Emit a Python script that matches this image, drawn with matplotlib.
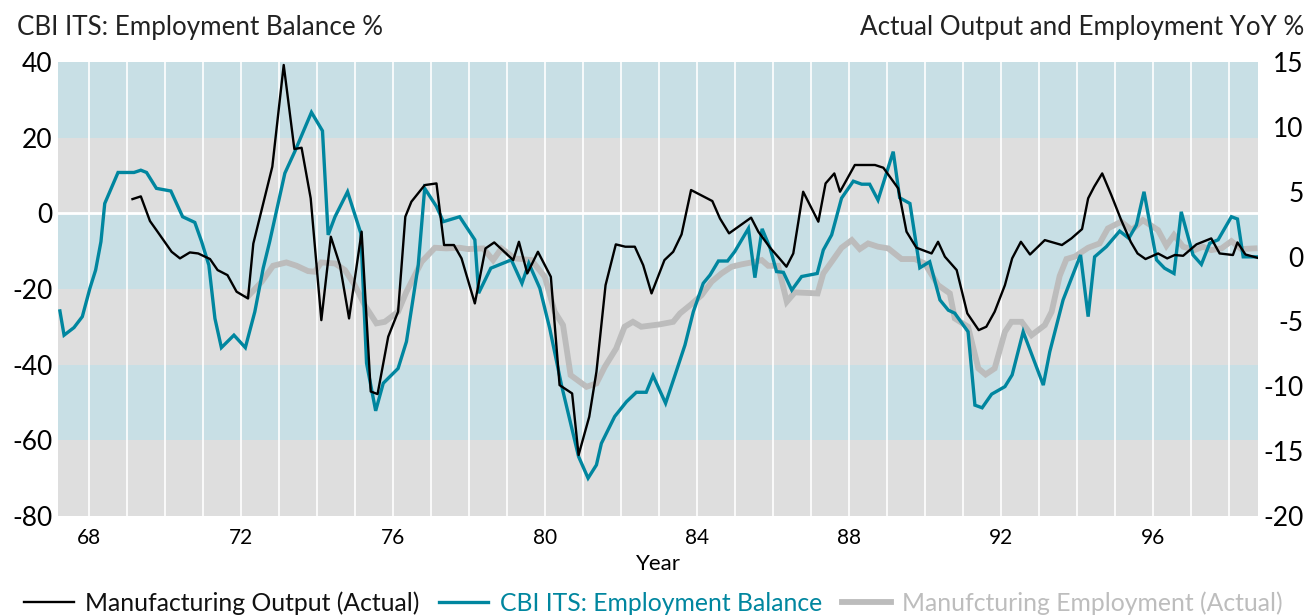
# CBI ITS employment balance vs actual output and employment
import matplotlib
matplotlib.use("Agg")
import matplotlib.pyplot as plt

plt.rcParams['font.family'] = ['Lato', 'DejaVu Sans']
plt.rcParams['axes.unicode_minus'] = False

# CBI ITS: Employment Balance % (left axis)
cbi_year = [67.23, 67.34, 67.60, 67.82, 68.02, 68.17, 68.31, 68.41, 68.76, 69.18,
            69.36, 69.51, 69.77, 70.15, 70.46, 70.78, 70.96, 71.15, 71.31, 71.48,
            71.81, 72.11, 72.36, 72.58, 72.75, 73.15, 73.41, 73.85, 74.14, 74.29,
            74.47, 74.80, 75.15, 75.30, 75.54, 75.74, 76.13, 76.35, 76.66, 76.83,
            77.14, 77.32, 77.75, 78.15, 78.25, 78.57, 79.11, 79.39, 79.57, 79.86,
            80.12, 80.43, 80.88, 81.13, 81.35, 81.48, 81.83, 82.14, 82.40, 82.66,
            82.84, 83.17, 83.42, 83.68, 83.90, 84.16, 84.34, 84.56, 84.80, 84.99,
            85.35, 85.52, 85.71, 85.92, 86.09, 86.27, 86.49, 86.75, 87.16, 87.32,
            87.54, 87.80, 88.11, 88.33, 88.54, 88.76, 89.16, 89.33, 89.60, 89.86,
            90.12, 90.39, 90.61, 90.78, 91.13, 91.31, 91.50, 91.75, 92.10, 92.29,
            92.58, 93.11, 93.28, 93.63, 94.09, 94.29, 94.46, 94.77, 95.12, 95.36,
            95.56, 95.76, 96.09, 96.30, 96.55, 96.74, 97.05, 97.27, 97.49, 97.71,
            98.06, 98.22, 98.37, 98.74]
cbi_bal = [-25.8, -32.2, -30.2, -27.3, -19.8, -15.0, -7.5, 2.6, 10.8, 10.8,
           11.4, 10.8, 6.6, 5.9, -0.9, -2.4, -7.5, -13.7, -27.8, -35.5,
           -32.2, -35.5, -26.0, -14.5, -7.5, 10.6, 16.3, 26.7, 21.8, -5.7,
           -0.9, 5.7, -5.3, -39.6, -52.2, -44.9, -41.0, -33.9, -13.7, 6.6,
           1.8, -2.2, -0.9, -7.0, -21.1, -14.5, -12.3, -18.5, -13.2, -19.8,
           -30.4, -45.4, -64.3, -70.0, -66.5, -60.8, -53.7, -49.8, -47.3, -47.3,
           -42.9, -50.2, -42.7, -34.8, -26.0, -18.5, -16.3, -12.6, -12.6, -10.1,
           -4.0, -17.0, -4.1, -9.2, -15.4, -15.6, -20.3, -16.7, -15.9, -9.7,
           -5.7, 4.0, 8.5, 7.7, 7.7, 3.5, 16.3, 4.1, 2.6, -14.4,
           -12.8, -22.9, -25.6, -26.4, -31.3, -50.7, -51.4, -47.8, -45.8, -42.7,
           -31.3, -45.4, -36.6, -22.9, -11.0, -27.3, -11.5, -8.8, -4.7, -6.6,
           -3.1, 5.7, -12.3, -14.5, -15.9, 0.4, -11.0, -13.5, -7.9, -7.0,
           -0.9, -1.5, -11.5, -11.5]

# Manufacturing output YoY % (right axis)
out_year = [69.14, 69.36, 69.60, 69.77, 70.17, 70.39, 70.65, 70.87, 71.18, 71.38,
            71.64, 71.88, 72.18, 72.32, 72.82, 73.12, 73.40, 73.59, 73.83, 74.11,
            74.36, 74.60, 74.84, 75.17, 75.41, 75.59, 75.87, 76.13, 76.32, 76.48,
            76.83, 77.14, 77.34, 77.60, 77.80, 78.15, 78.43, 78.66, 79.16, 79.31,
            79.53, 79.81, 80.15, 80.38, 80.71, 80.88, 81.16, 81.35, 81.59, 81.86,
            82.11, 82.36, 82.58, 82.80, 83.14, 83.37, 83.59, 83.84, 84.40, 84.60,
            84.84, 85.42, 85.61, 85.92, 86.15, 86.35, 86.53, 86.79, 87.19, 87.38,
            87.61, 87.76, 88.15, 88.68, 88.90, 89.29, 89.51, 89.77, 90.17, 90.34,
            90.52, 90.83, 91.11, 91.41, 91.61, 91.83, 92.10, 92.29, 92.52, 92.76,
            93.15, 93.60, 93.85, 94.13, 94.29, 94.45, 94.66, 94.90, 95.16, 95.41,
            95.59, 95.80, 96.13, 96.37, 96.57, 96.79, 97.14, 97.53, 97.75, 98.10,
            98.22, 98.43, 98.74]
out_yoy = [4.43, 4.64, 2.74, 2.04, 0.37, -0.14, 0.32, 0.24, -0.19, -1.04,
           -1.43, -2.71, -3.23, 1.0, 6.93, 14.77, 8.29, 8.39, 4.49, -4.9,
           1.53, -0.66, -4.77, 1.92, -10.4, -10.6, -6.18, -4.25, 3.07, 4.23,
           5.51, 5.64, 0.89, 0.89, -0.14, -3.61, 0.63, 1.09, -0.27, 1.14,
           -1.3, 0.37, -1.56, -9.91, -10.55, -15.3, -12.35, -8.88, -2.2, 0.94,
           0.76, 0.76, -0.66, -2.84, -0.27, 0.37, 1.71, 5.13, 4.28, 2.94,
           1.79, 3.0, 1.92, 0.68, -0.09, -0.78, 0.24, 5.0, 2.69, 5.64,
           6.41, 5.0, 7.06, 7.06, 6.85, 5.26, 1.92, 0.68, 0.24, 1.14,
           -0.01, -1.04, -4.38, -5.67, -5.41, -4.25, -2.2, -0.14, 1.14, 0.16,
           1.27, 0.89, 1.4, 2.12, 4.49, 5.39, 6.41, 4.74, 2.81, 1.14,
           0.24, -0.19, 0.24, -0.14, 0.12, 0.06, 0.94, 1.4, 0.24, 0.12,
           1.09, 0.16, -0.09]

# Manufacturing employment YoY % (right axis)
emp_year = [72.20, 72.54, 72.84, 73.19, 73.46, 73.76, 73.94, 74.11, 74.47, 74.73,
            74.99, 75.25, 75.56, 75.78, 76.13, 76.35, 76.75, 77.10, 77.40, 77.75,
            77.97, 78.37, 78.63, 78.85, 79.20, 79.64, 79.99, 80.25, 80.47, 80.67,
            81.09, 81.35, 81.57, 81.87, 82.09, 82.31, 82.53, 83.01, 83.37, 83.55,
            83.84, 84.12, 84.38, 84.64, 84.91, 85.17, 85.52, 85.70, 85.87, 86.13,
            86.36, 86.57, 87.17, 87.32, 87.54, 87.80, 88.07, 88.28, 88.50, 88.76,
            89.03, 89.38, 89.73, 89.99, 90.34, 90.65, 90.78, 91.13, 91.40, 91.59,
            91.83, 92.10, 92.27, 92.54, 92.80, 93.15, 93.33, 93.54, 93.72, 93.94,
            94.29, 94.59, 94.81, 95.16, 95.44, 95.73, 96.13, 96.35, 96.55, 96.79,
            97.09, 97.31, 97.53, 97.80, 98.06, 98.32, 98.67]
emp_yoy = [-3.0, -1.94, -0.71, -0.45, -0.71, -1.12, -1.17, -0.45, -0.53, -1.04,
           -2.20, -3.74, -5.15, -5.03, -4.25, -2.71, -0.40, 0.68, 0.63, 0.68,
           0.58, 0.63, -0.27, 0.63, -0.14, -0.27, -1.56, -4.25, -5.28, -9.14,
           -10.04, -9.78, -8.5, -7.08, -5.41, -5.03, -5.41, -5.23, -5.03, -4.38,
           -3.69, -2.97, -1.94, -1.3, -0.78, -0.6, -0.4, -0.27, -0.71, -0.71,
           -3.48, -2.76, -2.84, -1.3, -0.4, 0.68, 1.27, 0.58, 1.01, 0.76,
           0.63, -0.19, -0.19, -0.53, -2.2, -2.84, -4.77, -5.41, -8.62, -9.09,
           -8.62, -5.8, -5.03, -5.03, -6.06, -5.28, -4.25, -1.5, -0.19, 0.0,
           0.68, 1.01, 2.17, 2.69, 2.04, 2.81, 2.04, 0.84, 1.66, 0.76,
           0.5, 0.76, 0.5, 0.63, 1.19, 0.58, 0.63]

year_ticks = [68, 72, 76, 80, 84, 88, 92, 96]
left_ticks = [40, 20, 0, -20, -40, -60, -80]
right_ticks = [15, 10, 5, 0, -5, -10, -15, -20]

teal = '#00869f'
grey_line = '#bcbcbc'
band_blue = '#c8dfe5'
band_grey = '#dedede'

fig = plt.figure(figsize=(13.07, 6.16), dpi=100)
rect = [58 / 1307, 1 - 516 / 616, 1200 / 1307, 454 / 616]
ax = fig.add_axes(rect)
xlim = (67.18, 98.76)

# background bands and white grid
for lo, hi, c in [(20, 40, band_blue), (0, 20, band_grey), (-20, 0, band_blue),
                  (-40, -20, band_grey), (-60, -40, band_blue), (-80, -60, band_grey)]:
    ax.axhspan(lo, hi, color=c, lw=0, zorder=0)
for yr in range(68, 99):
    ax.axvline(yr, color='white', lw=1.2, zorder=1)
ax.axhline(0, color='white', lw=2, zorder=1)

ax.set_xlim(xlim)
ax.set_ylim(-80, 40)
ax.set_yticks(left_ticks)
ax.set_xticks(year_ticks)
ax.set_xticklabels([str(y) for y in year_ticks])
ax.tick_params(axis='y', length=0, labelsize=19, pad=4)
ax.tick_params(axis='x', length=0, labelsize=15, pad=9)
ax.set_xlabel('Year', fontsize=16, labelpad=4)
for s in ax.spines.values():
    s.set_visible(False)

# employment (grey) under the balance, output (black) on top
ax_emp = ax.twinx()
ax_emp.set_ylim(-20, 15)
ax_emp.axis('off')
ln_emp, = ax_emp.plot(emp_year, emp_yoy, color=grey_line, lw=4.2,
                      solid_joinstyle='miter')

ax_cbi = ax.twinx()
ax_cbi.set_ylim(-80, 40)
ax_cbi.axis('off')
ln_cbi, = ax_cbi.plot(cbi_year, cbi_bal, color=teal, lw=2.4,
                      solid_joinstyle='miter')

ax_out = ax.twinx()
ax_out.set_ylim(-20, 15)
ax_out.set_yticks(right_ticks)
ax_out.tick_params(axis='y', length=0, labelsize=19, pad=33)
for lab in ax_out.get_yticklabels():
    lab.set_horizontalalignment('right')
for s in ax_out.spines.values():
    s.set_visible(False)
ln_out, = ax_out.plot(out_year, out_yoy, color='black', lw=1.7)

for a in (ax_emp, ax_cbi, ax_out):
    a.set_xlim(xlim)

fig.text(17 / 1307, 1 - 27 / 616, 'CBI ITS: Employment Balance %',
         fontsize=18.7, color='#222222', va='center', ha='left')
fig.text(1304 / 1307, 1 - 27 / 616, 'Actual Output and Employment YoY %',
         fontsize=18.7, color='#222222', va='center', ha='right')

leg = fig.legend([ln_out, ln_cbi, ln_emp],
                 ['Manufacturing Output (Actual)', 'CBI ITS: Employment Balance',
                  'Manufcturing Employment (Actual)'],
                 loc='center', bbox_to_anchor=(0.5, 1 - 603 / 616), ncol=3,
                 frameon=False, fontsize=17.8, handlelength=2.0,
                 handletextpad=0.45, columnspacing=0.8)
for txt, c in zip(leg.get_texts(), ['#111111', teal, '#bdbdbd']):
    txt.set_color(c)

fig.savefig('out.png', dpi=100)
